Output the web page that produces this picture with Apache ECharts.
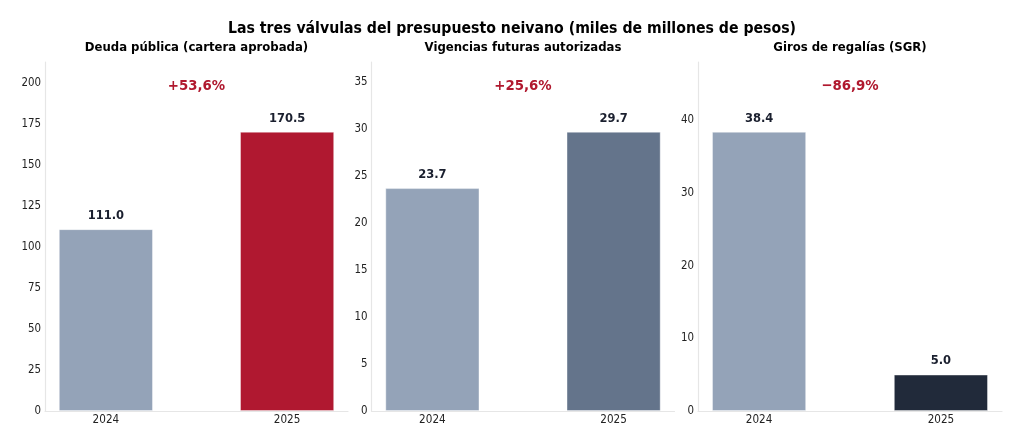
<!DOCTYPE html>
<html>
<head>
<meta charset="utf-8">
<script src="https://cdn.jsdelivr.net/npm/echarts@6/dist/echarts.min.js"></script>
<style>
html,body{margin:0;padding:0;background:#fff;}
#c{width:1024px;height:447px;}
</style>
</head>
<body>
<div id="c"></div>
<script>
const categories = ['2024', '2025'];
const panelTitles = ['Deuda pública (cartera aprobada)', 'Vigencias futuras autorizadas', 'Giros de regalías (SGR)'];
const deudaValues = [111.0, 170.5];
const vigenciasValues = [23.7, 29.7];
const regaliasValues = [38.4, 5.0];
const changeLabels = ['+53,6%', '+25,6%', '\u221286,9%'];
const yTicks1 = [0, 25, 50, 75, 100, 125, 150, 175, 200];
const yTicks2 = [0, 5, 10, 15, 20, 25, 30, 35];
const yTicks3 = [0, 10, 20, 30, 40];

const seriesValues = [deudaValues, vigenciasValues, regaliasValues];
const yTicks = [yTicks1, yTicks2, yTicks3];
const colors2024 = '#94a3b8';
const colors2025 = ['#b01830', '#64748b', '#212a3a'];

const grids = [
  {left: 45, width: 303},
  {left: 371.5, width: 303},
  {left: 698, width: 304}
];
const font = '"DejaVu Sans Condensed", "DejaVu Sans"';

const option = {
  animation: false,
  backgroundColor: '#fff',
  textStyle: {fontFamily: font},
  grid: grids.map(g => ({left: g.left, width: g.width, top: 62, height: 349})),
  xAxis: [],
  yAxis: [],
  series: [],
  graphic: [{
    type: 'text', x: 512, y: 29, z: 10,
    style: {text: 'Las tres válvulas del presupuesto neivano (miles de millones de pesos)',
      textAlign: 'center', textVerticalAlign: 'middle',
      font: 'bold 15.7px ' + font, fill: '#000'}
  }]
};

for (let i = 0; i < 3; i++) {
  const vals = seriesValues[i];
  const maxV = Math.max(...vals) * 1.25;
  const cx = grids[i].left + grids[i].width / 2;
  option.graphic.push({
    type: 'text', x: cx, y: 48, z: 10,
    style: {text: panelTitles[i], textAlign: 'center', textVerticalAlign: 'middle',
      font: 'bold 13px ' + font, fill: '#000'}
  });
  option.graphic.push({
    type: 'text', x: cx, y: 86, z: 10,
    style: {text: changeLabels[i], textAlign: 'center', textVerticalAlign: 'middle',
      font: 'bold 14.8px ' + font, fill: '#b0182e'}
  });
  option.xAxis.push({
    type: 'value', gridIndex: i, min: -0.336, max: 1.336,
    splitLine: {show: false},
    axisLine: {show: true, onZero: false, lineStyle: {color: '#e6e6e6', width: 1.2}},
    axisTick: {show: false},
    axisLabel: {customValues: [0, 1], formatter: v => categories[Math.round(v)],
      color: '#222', fontSize: 11.6, fontFamily: font, margin: 3}
  });
  option.yAxis.push({
    type: 'value', gridIndex: i, min: 0, max: maxV,
    splitLine: {show: false},
    axisLine: {show: true, onZero: false, lineStyle: {color: '#e6e6e6', width: 1.2}},
    axisTick: {show: false},
    axisLabel: {customValues: yTicks[i], color: '#222', fontSize: 11.4, fontFamily: font, margin: 4}
  });
  option.series.push({
    type: 'bar', xAxisIndex: i, yAxisIndex: i, barWidth: 94,
    data: vals.map((v, j) => ({
      value: [j, v],
      itemStyle: {color: j === 0 ? colors2024 : colors2025[i], borderColor: 'rgba(255,255,255,0.5)', borderWidth: 0.8}
    })),
    label: {show: true, position: 'top', distance: 7, formatter: p => p.value[1].toFixed(1),
      fontFamily: font, fontSize: 12.8, fontWeight: 'bold', color: '#1a1f2e'}
  });
}

const chart = echarts.init(document.getElementById('c'), null, {renderer: 'canvas'});
chart.setOption(option);
</script>
</body>
</html>
